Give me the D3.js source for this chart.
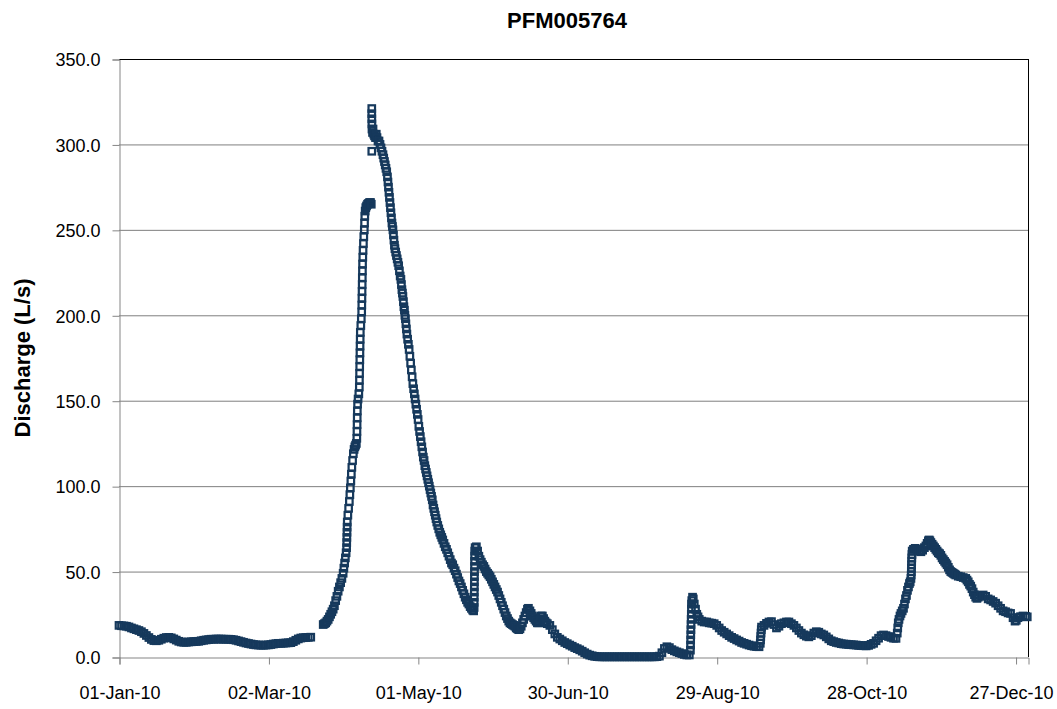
<!DOCTYPE html>
<html>
<head>
<meta charset="utf-8">
<script src="https://cdn.jsdelivr.net/npm/d3@7"></script>
<style>
  body { margin: 0; background: #fff; }
  text { font-family: "Liberation Sans", Arial, sans-serif; }
</style>
</head>
<body>
<script>
// station PFM005764, discharge in L/s, 2010
// day = day of year counted from 01-Jan-10 00:00

var xTickDates = ["2010-01-01", "2010-03-02", "2010-05-01", "2010-06-30", "2010-08-29", "2010-10-28", "2010-12-27"];
var yTicks = [0, 50, 100, 150, 200, 250, 300, 350];

// daily readings, 01-Jan to 19-Mar
var winterQ = [
  18.5, 18.3, 18.2, 18.0, 17.6, 17.0, 16.5, 16.0, 15.5, 14.8,
  13.8, 12.6, 11.4, 10.3, 9.6, 9.5, 9.8, 10.4, 11.0, 11.4,
  11.5, 11.2, 10.6, 9.9, 9.2, 8.8, 8.6, 8.6, 8.8, 8.9,
  9.0, 9.1, 9.2, 9.5, 9.8, 10.0, 10.2, 10.4, 10.4, 10.5,
  10.5, 10.5, 10.4, 10.4, 10.4, 10.3, 10.1, 9.8, 9.4, 9.0,
  8.6, 8.2, 7.9, 7.6, 7.3, 7.1, 7.0, 6.9, 6.9, 7.0,
  7.1, 7.3, 7.6, 7.8, 8.0, 8.0, 8.1, 8.2, 8.3, 8.4,
  9.0, 9.8, 10.6, 11.1, 11.3, 11.4, 11.5, 11.6
];

// snowmelt rise, [day, Q]
var springRise = [
  [82, 19], [82.5, 19.5], [83, 20], [83.5, 21], [84, 22], [84.5, 23.5], [85, 25], [85.5, 26.5],
  [86, 28], [86.5, 30], [87, 33], [87.5, 35.5], [88, 38.5], [88.5, 41], [89, 43.5], [89.5, 46],
  [90, 49], [90.3, 52], [90.6, 55], [90.9, 58], [91.2, 61], [91.4, 64], [91.45, 67], [91.5, 70],
  [91.55, 73], [91.6, 76], [91.65, 79], [91.9, 83], [92.2, 87], [92.5, 91], [92.7, 95], [92.9, 99],
  [93.1, 103], [93.3, 107], [93.5, 111], [93.8, 115], [94.1, 119], [94.4, 121.5], [94.7, 123],
  [95, 124], [95.3, 125], [95.5, 128], [95.55, 132], [95.6, 136], [95.65, 140], [95.7, 144],
  [95.8, 148], [96, 151], [96.3, 154], [96.5, 158], [96.55, 162], [96.6, 166], [96.65, 170],
  [96.7, 174], [96.75, 178], [96.8, 182], [96.85, 186], [96.9, 190], [97.1, 194], [97.3, 198],
  [97.45, 202], [97.5, 206], [97.55, 210], [97.6, 214], [97.65, 218], [97.7, 222], [97.75, 226],
  [97.8, 230], [97.9, 234], [98, 238], [98.15, 242], [98.3, 246], [98.5, 250], [98.6, 254],
  [98.7, 258], [98.85, 261], [99.1, 263], [99.4, 264], [99.8, 265], [100.2, 265.5], [100.6, 266],
  [101, 266], [101.3, 265]
];

// peak and recession, [day, Q]
var springFall = [
  [101.5, 321], [101.5, 318], [101.52, 315], [101.55, 312], [101.58, 309], [101.5, 296],
  [101.8, 307], [102, 309], [102.3, 306], [102.6, 305], [103, 304], [103.3, 306], [103.6, 304],
  [104, 302], [104.4, 302], [104.8, 300], [105.2, 298], [105.6, 296], [106, 294], [106.3, 292],
  [106.6, 290], [106.9, 288], [107.2, 286], [107.5, 284], [107.8, 281], [108, 278], [108.2, 275],
  [108.4, 272], [108.6, 269], [108.8, 266], [109, 263], [109.2, 260], [109.4, 257], [109.6, 254],
  [109.8, 252], [110, 250], [110.2, 247], [110.4, 244], [110.6, 241], [110.8, 239], [111.1, 237],
  [111.4, 235], [111.7, 233], [112, 231], [112.3, 229], [112.6, 226], [112.9, 223], [113.2, 221],
  [113.4, 218], [113.6, 215], [113.8, 213], [114, 211], [114.2, 208], [114.4, 205], [114.6, 203],
  [114.8, 200], [115, 198], [115.2, 195], [115.4, 192], [115.6, 189], [115.9, 186], [116.2, 183],
  [116.5, 180], [116.8, 176], [117.1, 172], [117.4, 168], [117.7, 164], [118, 160], [118.3, 157],
  [118.6, 154], [118.9, 151], [119.2, 148], [119.5, 145], [119.8, 142], [120.1, 139], [120.4, 135],
  [120.7, 132], [121, 129], [121.3, 126], [121.6, 123], [121.9, 120], [122.2, 117], [122.5, 115],
  [122.8, 112], [123.1, 110], [123.4, 108], [123.7, 106], [124, 104], [124.3, 102], [124.6, 100],
  [124.9, 98], [125.2, 96], [125.5, 94], [125.8, 92], [126.1, 89], [126.4, 87], [126.7, 85],
  [127, 83], [127.3, 81], [127.6, 79], [128, 77], [128.4, 75], [128.8, 73], [129.2, 71.5],
  [129.6, 70], [130, 68.5], [130.5, 66.5], [131, 64.5], [131.5, 63], [132, 61], [132.5, 59],
  [133, 57], [133.5, 55], [134, 54], [134.5, 52], [135, 50.5], [135.5, 48.5], [136, 46.5],
  [136.5, 44.5], [137, 43], [137.5, 41], [138, 39], [138.5, 37], [139, 35], [139.5, 33.5],
  [140, 32], [140.5, 31], [141, 29.5], [141.5, 28.5], [142, 27.5], [142.4, 27]
];

// late May storm to the dry spell, [day, Q]
var summerQ = [
  [142.6, 29], [142.62, 32], [142.64, 35], [142.66, 38], [142.68, 41], [142.7, 44], [142.72, 47],
  [142.74, 50], [142.76, 53], [142.78, 56], [142.8, 59], [142.85, 62], [143, 64], [143.5, 64.5],
  [144, 62], [144.5, 59], [145, 57], [145.5, 55.5], [146, 54], [146.5, 53], [147, 51.5], [147.5, 50],
  [148, 49], [148.5, 48], [149, 47], [149.5, 45.5], [150, 44], [150.5, 42.5], [151, 41], [151.5, 39.5],
  [152, 38], [152.5, 36], [153, 34], [153.5, 32], [154, 30], [154.5, 28], [155, 26], [155.5, 24],
  [156, 22.5], [156.5, 21], [157, 20], [157.5, 19.5], [158, 19], [158.5, 18.5], [159, 18], [159.5, 17],
  [160, 16.5], [160.5, 16], [161, 16.5], [161.5, 18], [162, 20], [162.5, 22], [163, 24], [163.5, 26],
  [164, 28], [164.4, 28.5], [165, 27], [165.5, 25.5], [166, 24], [166.5, 23], [167, 22], [167.5, 21],
  [168, 20], [168.5, 20], [169, 22], [169.5, 24], [170, 24], [170.5, 22.5], [171, 21], [171.5, 20],
  [172, 19.5], [173, 18.5], [174, 16], [175, 13.5], [176, 11.5], [177, 10.5], [178, 9.5], [179, 8.5],
  [180, 7.8], [181, 7], [182, 6.3], [183, 5.5], [184, 4.9], [185, 4.2], [186, 3.4], [187, 2.5],
  [188, 1.7], [189, 1.1], [190, 0.7], [191, 0.4], [192, 0.2], [193, 0.1], [194, 0.1], [195, 0.1],
  [196, 0.1], [197, 0.1], [198, 0.1], [199, 0.1], [200, 0.1], [201, 0.1], [202, 0.1], [203, 0.1],
  [204, 0.1], [205, 0.1], [206, 0.1], [207, 0.1], [208, 0.1], [209, 0.1], [210, 0.1], [211, 0.1],
  [212, 0.1], [213, 0.1], [214, 0.1], [215, 0.1], [216, 0.2], [217, 0.5], [218, 2.5], [219, 5],
  [220, 6], [221, 5.5], [222, 4.3], [223, 3.6], [224, 3], [225, 2.5], [226, 2], [227, 1.5],
  [228, 1.2], [229, 1.2]
];

// August to December events, [day, Q]
var autumnQ = [
  [229.45, 4], [229.5, 7], [229.55, 10], [229.6, 13], [229.65, 16], [229.7, 19], [229.75, 22],
  [229.8, 25], [229.85, 28], [229.9, 31], [230, 33], [230.3, 35], [230.6, 34], [231, 31], [231.5, 28],
  [232, 25], [232.5, 23.5], [233, 22], [234, 21], [235, 20.5], [236, 20.5], [237, 20], [238, 19.8],
  [239, 19.5], [240, 18.5], [241, 17], [242, 15.5], [243, 14.5], [244, 13.5], [245, 12.5], [246, 11.5],
  [247, 10.8], [248, 10], [249, 9.3], [250, 8.5], [251, 8], [252, 7.5], [253, 7], [254, 6.6],
  [255, 6.3], [256, 6.1], [257, 6], [257.5, 8], [257.6, 10], [257.7, 12], [257.8, 14], [257.9, 16],
  [258, 17.5], [259, 18.5], [260, 19.7], [261, 20.5], [262, 20.7], [263, 19], [264, 17], [265, 18],
  [266, 19.5], [267, 20], [268, 20.5], [269, 20.5], [270, 19.5], [271, 18.5], [272, 17], [273, 15.5],
  [274, 14], [275, 13], [276, 12.2], [277, 11.8], [278, 12.5], [279, 14], [280, 14.8], [281, 14.5],
  [282, 13.5], [283, 12.9], [284, 11.8], [285, 10.6], [286, 9.5], [287, 9], [288, 8.5], [289, 8.2],
  [290, 7.8], [291, 7.6], [292, 7.5], [293, 7.3], [294, 7.2], [295, 7.1], [296, 7], [297, 6.8],
  [298, 6.7], [299, 6.6], [300, 6.5], [301, 6.8], [302, 7.4], [303, 8], [304, 9.5], [305, 11],
  [306, 12.5], [307, 12.9], [308, 12.5], [309, 12], [310, 11.5], [311, 11], [312, 10.9],
  [312.5, 14], [312.7, 17], [312.9, 20], [313.2, 22], [313.6, 24], [314, 25.5], [314.5, 27],
  [315, 28.5], [315.4, 31], [315.8, 34], [316.2, 36], [316.6, 39], [317, 41], [317.4, 43],
  [317.7, 44], [318, 46], [318.1, 48], [318.15, 50], [318.2, 52], [318.25, 54], [318.3, 56],
  [318.35, 58], [318.4, 60], [318.5, 62], [319, 63], [319.7, 63.6], [320.5, 63], [321.3, 62],
  [322, 61.6], [322.7, 62.5], [323.4, 64], [324, 65], [324.5, 66.5], [325, 68], [325.3, 68.5],
  [325.6, 68], [326, 67], [326.5, 66], [327, 65], [327.5, 64], [328, 63], [328.5, 62], [329, 61],
  [329.5, 60.5], [330, 59.5], [330.5, 58], [331, 57], [331.5, 56], [332, 55], [332.5, 54],
  [333, 52.5], [333.5, 51], [334, 50], [334.5, 49.5], [335, 49], [335.5, 48.5], [336, 48],
  [337, 47.3], [338, 47], [339, 46.5], [340, 46], [340.5, 45], [341, 44], [341.5, 42.5], [342, 41.5],
  [342.5, 40], [343, 38], [343.5, 36.5], [344, 35], [344.5, 34.3], [345, 35], [346, 36], [347, 36.3],
  [348, 35.5], [349, 34], [350, 33.4], [351, 32.5], [352, 31.5], [353, 30], [354, 28.5], [355, 27],
  [356, 26.5], [357, 25.8], [358, 25.5], [359, 23], [359.8, 21], [360.3, 21.5], [361, 23],
  [362, 23.6], [363, 24], [364, 23.8], [364.7, 23.5]
];

var W = 1057, H = 709;
var margin = {left: 119, right: 29, top: 59, bottom: 52};
var DAY = 864e5;
var t0 = Date.UTC(2010, 0, 1);

var readings = winterQ.map(function(q, i) { return [i, q]; })
  .concat(springRise, springFall, summerQ, autumnQ);

var svg = d3.select("body").append("svg")
  .attr("width", W)
  .attr("height", H);

svg.append("rect").attr("width", W).attr("height", H).attr("fill", "#fff");

var x = d3.scaleUtc()
  .domain([new Date(t0), new Date(Date.UTC(2011, 0, 1))])
  .range([margin.left, W - margin.right]);

var y = d3.scaleLinear()
  .domain([0, 350])
  .range([H - margin.bottom, margin.top]);

// gridlines
svg.append("g")
  .selectAll("line")
  .data(yTicks.slice(1))
  .join("line")
  .attr("x1", x.range()[0])
  .attr("x2", x.range()[1])
  .attr("y1", function(d) { return y(d) + 0.5; })
  .attr("y2", function(d) { return y(d) + 0.5; })
  .attr("stroke", function(d) { return d === 350 ? "#000" : "#7f7f7f"; })
  .attr("stroke-width", 1);

// right border
svg.append("line")
  .attr("x1", x.range()[1] + 0.5).attr("x2", x.range()[1] + 0.5)
  .attr("y1", y(350)).attr("y2", y(0))
  .attr("stroke", "#000");

var yAxis = svg.append("g")
  .attr("transform", "translate(" + (margin.left + 0.5) + ",0.5)")
  .call(d3.axisLeft(y).tickValues(yTicks).tickFormat(d3.format(".1f")).tickSize(7).tickPadding(12));

var xAxis = svg.append("g")
  .attr("transform", "translate(0.5," + (y(0) + 0.5) + ")")
  .call(d3.axisBottom(x)
    .tickValues(xTickDates.map(function(s) { return new Date(s + "T00:00:00Z"); }))
    .tickFormat(d3.utcFormat("%d-%b-%y"))
    .tickSize(7).tickPadding(22));

[yAxis, xAxis].forEach(function(g) {
  g.selectAll("path, line").attr("stroke", "#858585");
  g.selectAll("text").attr("fill", "#000")
    .style("font-size", "18px")
    .style("font-family", "'Liberation Sans', Arial, sans-serif");
});
yAxis.selectAll("text").attr("dy", "0.35em");
// last date label sits against the page edge
xAxis.selectAll(".tick:last-of-type text").attr("dx", -5);

// markers
var s = 6.5;
svg.append("g")
  .selectAll("rect")
  .data(readings)
  .join("rect")
  .attr("x", function(d) { return x(new Date(t0 + d[0] * DAY)) - s / 2; })
  .attr("y", function(d) { return y(d[1]) - s / 2; })
  .attr("width", s)
  .attr("height", s)
  .attr("fill", "none")
  .attr("stroke", "#16395C")
  .attr("stroke-width", 2.2);

svg.append("text")
  .attr("x", 567).attr("y", 28)
  .attr("text-anchor", "middle")
  .style("font-size", "22px").style("font-weight", "bold")
  .text("PFM005764");

svg.append("text")
  .attr("transform", "translate(30," + ((y(0) + y(350)) / 2) + ") rotate(-90)")
  .attr("text-anchor", "middle")
  .style("font-size", "22px").style("font-weight", "bold")
  .text("Discharge (L/s)");
</script>
</body>
</html>
